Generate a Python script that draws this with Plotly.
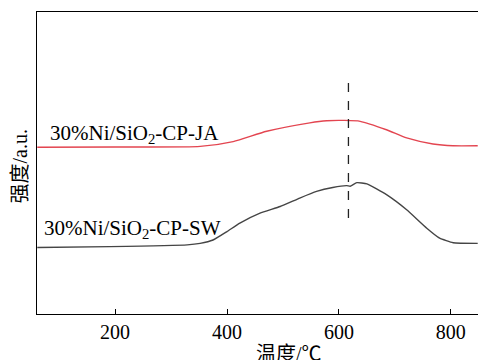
import plotly.graph_objects as go

# Temperatures (°C) and intensities (a.u.)
temp_ja = [61, 200, 352, 411, 471, 548, 578, 610, 638, 685, 721, 768, 804, 848]
int_ja = [55.2, 55.3, 55.5, 57.1, 60.5, 63.3, 64.0, 64.1, 63.8, 61.0, 58.3, 56.3, 55.7, 55.7]

temp_sw = [61, 191, 329, 352, 375, 400, 423, 459, 495, 530, 560, 589, 614, 620, 632, 650, 685, 721, 757, 780, 804, 848]
int_sw = [22.0, 22.3, 22.9, 23.4, 24.5, 27.3, 30.1, 33.4, 35.6, 38.4, 40.6, 41.9, 42.5, 42.3, 43.5, 43.1, 39.5, 34.5, 28.4, 25.1, 23.6, 23.4]

peak_temp = 617
peak_line_y = [31.8, 76.5]

label_ja = "30%Ni/SiO<sub>2</sub>-CP-JA"
label_sw = "30%Ni/SiO<sub>2</sub>-CP-SW"
x_ticks = [200, 400, 600, 800]

font_family = "Liberation Serif, 'Noto Sans CJK SC', serif"

fig = go.Figure()
fig.add_trace(go.Scatter(x=temp_ja, y=int_ja, mode="lines",
                         line=dict(color="#e34550", width=1.4, shape="spline", smoothing=0.6),
                         showlegend=False))
fig.add_trace(go.Scatter(x=temp_sw, y=int_sw, mode="lines",
                         line=dict(color="#454545", width=1.4, shape="spline", smoothing=0.4),
                         showlegend=False))
fig.add_trace(go.Scatter(x=[peak_temp, peak_temp], y=peak_line_y, mode="lines",
                         line=dict(color="#222222", width=1.3, dash="dash"),
                         showlegend=False))

fig.add_annotation(x=0.026, y=0.597, xref="paper", yref="paper", text=label_ja,
                   showarrow=False, xanchor="left", yanchor="middle",
                   font=dict(family=font_family, size=21, color="black"))
fig.add_annotation(x=0.012, y=0.283, xref="paper", yref="paper", text=label_sw,
                   showarrow=False, xanchor="left", yanchor="middle",
                   font=dict(family=font_family, size=21, color="black"))

fig.add_annotation(x=(289 - 37) / 441, y=-0.088, xref="paper", yref="paper", text="温度/℃",
                   showarrow=False, xanchor="center", yanchor="top",
                   font=dict(family=font_family, size=20, color="black"))
fig.add_annotation(x=-0.008, y=0.49, xref="paper", yref="paper", text="强度/a.u.",
                   showarrow=False, xanchor="right", yanchor="middle", textangle=-90,
                   font=dict(family=font_family, size=20, color="black"))

fig.update_layout(
    width=478, height=360,
    margin=dict(l=37, r=0, t=12, b=46),
    plot_bgcolor="white", paper_bgcolor="white",
    font=dict(family=font_family, size=20, color="black"),
)
fig.update_xaxes(range=[60.5, 848.5], tickvals=x_ticks, ticks="inside", ticklen=5, tickwidth=1.2,
                 tickcolor="black", showline=True, linecolor="black", linewidth=1.4,
                 mirror=True, showgrid=False, zeroline=False,
                 tickfont=dict(family=font_family, size=20, color="black"))
fig.update_yaxes(range=[0, 100], showticklabels=False, ticks="", showline=True,
                 linecolor="black", linewidth=1.4, showgrid=False, zeroline=False)

fig.write_html("out.html")
